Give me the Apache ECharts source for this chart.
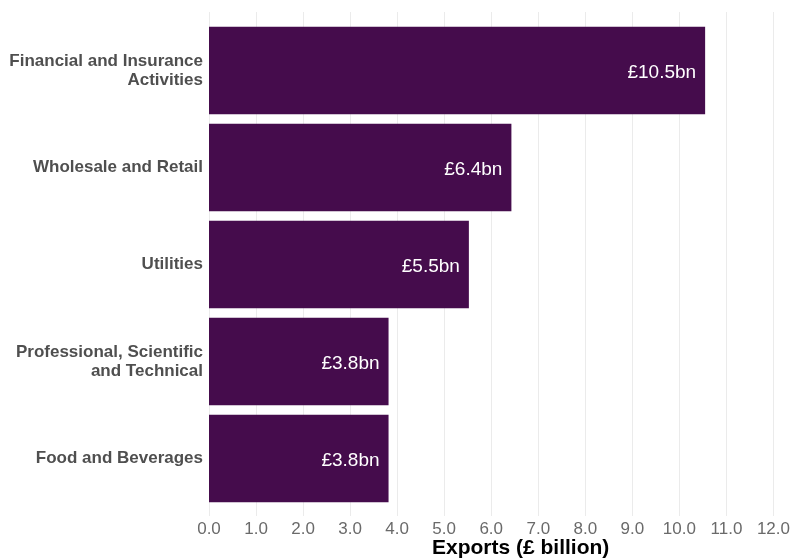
<!DOCTYPE html>
<html>
<head>
<meta charset="utf-8">
<script src="https://cdn.jsdelivr.net/npm/echarts@6/dist/echarts.min.js"></script>
<style>
  html, body { margin: 0; padding: 0; background: #ffffff; }
  #chart { width: 793px; height: 560px; }
</style>
</head>
<body>
<div id="chart"></div>
<script>
// Top exporting industries, ordered top to bottom
const industries = [
  'Financial and Insurance\nActivities',
  'Wholesale and Retail',
  'Utilities',
  'Professional, Scientific\nand Technical',
  'Food and Beverages'
];
const exportsBn = [10.5, 6.4, 5.5, 3.8, 3.8];
const xTicks = [0, 1, 2, 3, 4, 5, 6, 7, 8, 9, 10, 11, 12];

const FONT = '"Liberation Sans", Arial, sans-serif';
const xMin = xTicks[0];
const xMax = xTicks[xTicks.length - 1];

const chart = echarts.init(document.getElementById('chart'), null, { renderer: 'canvas' });

chart.setOption({
  backgroundColor: '#ffffff',
  animation: false,
  grid: [
    // panel carrying the vertical grid lines and tick labels
    { left: 209, right: 17, top: 12, bottom: 44, containLabel: false },
    // panel carrying the bars
    { left: 209, right: 17, top: 22, bottom: 53, containLabel: false }
  ],
  xAxis: [
    {
      gridIndex: 0,
      type: 'value',
      min: xMin,
      max: xMax,
      interval: 1,
      axisLine: { show: false },
      axisTick: { show: false },
      splitLine: { show: true, lineStyle: { color: '#ebebeb', width: 1 } },
      axisLabel: {
        color: '#6a6a6a',
        fontFamily: FONT,
        fontSize: 17,
        margin: 5,
        formatter: v => v.toFixed(1)
      }
    },
    {
      gridIndex: 1,
      type: 'value',
      min: xMin,
      max: xMax,
      interval: 1,
      show: false
    }
  ],
  yAxis: [
    {
      gridIndex: 0,
      type: 'value',
      min: 0,
      max: 1,
      show: false
    },
    {
      gridIndex: 1,
      type: 'category',
      data: industries,
      inverse: true,
      axisLine: { show: false },
      axisTick: { show: false },
      splitLine: { show: false },
      axisLabel: {
        color: '#4f4f4f',
        fontFamily: FONT,
        fontWeight: 'bold',
        fontSize: 17,
        lineHeight: 19,
        align: 'right',
        padding: [3, 0, 0, 0],
        margin: 6
      }
    }
  ],
  graphic: [
    {
      type: 'text',
      left: 432,
      top: 538,
      style: {
        text: 'Exports (£ billion)',
        fill: '#000000',
        font: 'bold 21px ' + FONT
      }
    }
  ],
  series: [
    {
      type: 'bar',
      xAxisIndex: 1,
      yAxisIndex: 1,
      data: exportsBn,
      barCategoryGap: '10%',
      itemStyle: { color: '#450c4c' },
      label: {
        show: true,
        position: 'insideRight',
        distance: 9,
        offset: [0, 2],
        color: '#ffffff',
        fontFamily: FONT,
        fontSize: 19,
        formatter: p => '£' + p.value.toFixed(1) + 'bn'
      }
    }
  ]
});
</script>
</body>
</html>
